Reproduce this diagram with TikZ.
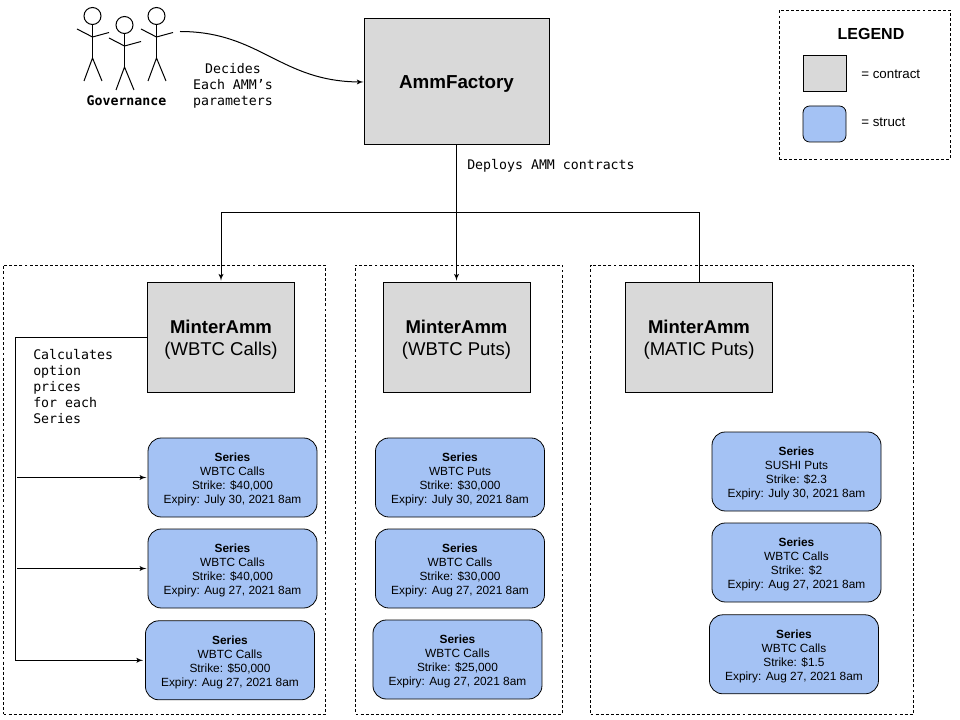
\documentclass[tikz,border=0pt]{standalone}
\usepackage{fontspec}
\setmainfont{Liberation Sans}
\setmonofont{DejaVu Sans Mono}
\usepackage{xcolor}
\usetikzlibrary{arrows, positioning}
\definecolor{contractgray}{HTML}{D9D9D9}
\definecolor{structblue}{HTML}{A4C2F4}
\newcommand{\seriestitle}{\rule{0pt}{9.5pt}\textbf{Series}}
\newcommand{\mintertitle}{\rule{0pt}{13pt}\textbf{MinterAmm}}

\begin{document}
\begin{tikzpicture}[x=0.75pt, y=-0.75pt,
    contract/.style={rectangle, draw=black, fill=contractgray, line width=0.75pt, inner sep=0pt, align=center, minimum width=110.25pt, minimum height=82.5pt, font=\fontsize{13.9}{16.5}\selectfont},
    series/.style={rectangle, draw=black, fill=structblue, line width=0.6pt, rounded corners=10pt, inner sep=0pt, align=center, minimum width=126.75pt, minimum height=59.25pt, font=\fontsize{8.9}{10.5}\selectfont},
    panel/.style={rectangle, draw=black, dashed, dash pattern=on 2.2pt off 1.6pt, line width=0.6pt, inner sep=0pt},
    note/.style={font=\ttfamily\fontsize{9.93}{12}\selectfont, inner sep=0pt, align=left},
    figure/.style={draw=black, line width=0.75pt},
    line/.style={draw=black, -latex', line width=0.75pt},
    plain/.style={draw=black, line width=0.75pt}]

    \useasboundingbox (0,0) rectangle (960,720);

    % dashed panels
    \node [panel, minimum width=241.5pt, minimum height=336.75pt] (panela) at (164.5,489.5) {};
    \node [panel, minimum width=155.25pt, minimum height=336.75pt] (panelb) at (459,489.5) {};
    \node [panel, minimum width=242.25pt, minimum height=336.75pt] (panelc) at (752,489.5) {};
    \node [panel, minimum width=128.25pt, minimum height=111.75pt] (legend) at (864.5,84.5) {};

    % legend
    \node [font=\bfseries\fontsize{12}{14}\selectfont, inner sep=0pt] (legendtitle) at (871,34) {LEGEND};
    \node [contract, minimum width=32.25pt, minimum height=27pt] (legendcontract) at (824.5,74) {};
    \node [series, minimum width=32.25pt, minimum height=27pt, rounded corners=5pt] (legendstruct) at (824.5,124) {};
    \node [anchor=west, inner sep=0pt, font=\fontsize{10}{12}\selectfont] (contracttext) at (861,74.5) {= contract};
    \node [anchor=west, inner sep=0pt, font=\fontsize{10}{12}\selectfont] (structtext) at (861,122.5) {= struct};

    % governance
    \foreach \figx/\figy in {0/0, 32/9, 64/0} {
        \begin{scope}[shift={(\figx,\figy)}]
            \draw [figure] (92.5,16) circle (8.5);
            \draw [figure] (92.5,24.5) -- (92.5,58);
            \draw [figure] (77,29) -- (92.5,37) -- (109,32.5);
            \draw [figure] (84,81) -- (92.5,58) -- (102,81);
        \end{scope}
    }
    \node [note, font=\ttfamily\bfseries\fontsize{9.93}{12}\selectfont] (governance) at (126.5,101) {Governance};
    \coordinate (govout) at (180,31.5);

    % contracts
    \node [contract, minimum width=138.75pt, minimum height=94.5pt, font=\bfseries\fontsize{14.1}{16.5}\selectfont, text depth=0pt] (factory) at (456.5,82) {AmmFactory};
    \node [contract] (amma) at (221,337.5) {\mintertitle\\(WBTC Calls)};
    \node [contract] (ammb) at (456.5,337.5) {\mintertitle\\(WBTC Puts)};
    \node [contract] (ammc) at (699,337.5) {\mintertitle\\(MATIC Puts)};

    % series, first column
    \node [series] (seriesa) at (232.5,477.5) {\seriestitle\\WBTC Calls\\Strike: \$40,000\\Expiry: July 30, 2021 8am};
    \node [series, below=8.4pt of seriesa] (seriesb) {\seriestitle\\WBTC Calls\\Strike: \$40,000\\Expiry: Aug 27, 2021 8am};
    \node [series, below=9pt of seriesb, xshift=-1.9pt] (seriesc) {\seriestitle\\WBTC Calls\\Strike: \$50,000\\Expiry: Aug 27, 2021 8am};

    % series, second column
    \node [series] (seriesd) at (460,477.5) {\seriestitle\\WBTC Puts\\Strike: \$30,000\\Expiry: July 30, 2021 8am};
    \node [series, below=8.4pt of seriesd] (seriese) {\seriestitle\\WBTC Calls\\Strike: \$30,000\\Expiry: Aug 27, 2021 8am};
    \node [series, below=8.4pt of seriese, xshift=-1.9pt] (seriesf) {\seriestitle\\WBTC Calls\\Strike: \$25,000\\Expiry: Aug 27, 2021 8am};

    % series, third column
    \node [series] (seriesg) at (796.5,471.5) {\seriestitle\\SUSHI Puts\\Strike: \$2.3\\Expiry: July 30, 2021 8am};
    \node [series, below=8.4pt of seriesg] (seriesh) {\seriestitle\\WBTC Calls\\Strike: \$2\\Expiry: Aug 27, 2021 8am};
    \node [series, below=9pt of seriesh, xshift=-1.9pt] (seriesi) {\seriestitle\\WBTC Calls\\Strike: \$1.5\\Expiry: Aug 27, 2021 8am};

    % labels
    \node [note, align=center] (decides) at (233,86) {Decides\\Each AMM’s\\parameters};
    \node [note, anchor=west] (deploys) at (467,166) {Deploys AMM contracts};
    \node [note, anchor=west] (calculates) at (33,387) {Calculates\\option\\prices\\for each\\Series};

    % connectors
    \coordinate (split) at (456.5,213);
    \coordinate (bus) at (15.5,408);
    \coordinate (tap) at (17,478);

    \path [line] (govout) .. controls (260,31.5) and (280,81.5) .. (factory.west);
    \path [line, shorten >=1pt] (factory.south) -- (ammb.north);
    \path [line, shorten >=1pt] (split) -| (amma.north);
    \path [plain] (split) -| (ammc.north);
    \path [plain] (amma.west) -| (bus);
    \path [line, shorten >=1.5pt] (bus) |- (seriesc.west);
    \path [line, shorten >=1pt] (tap |- seriesa.west) -- (seriesa.west);
    \path [line, shorten >=1pt] (tap |- seriesb.west) -- (seriesb.west);
\end{tikzpicture}
\end{document}
